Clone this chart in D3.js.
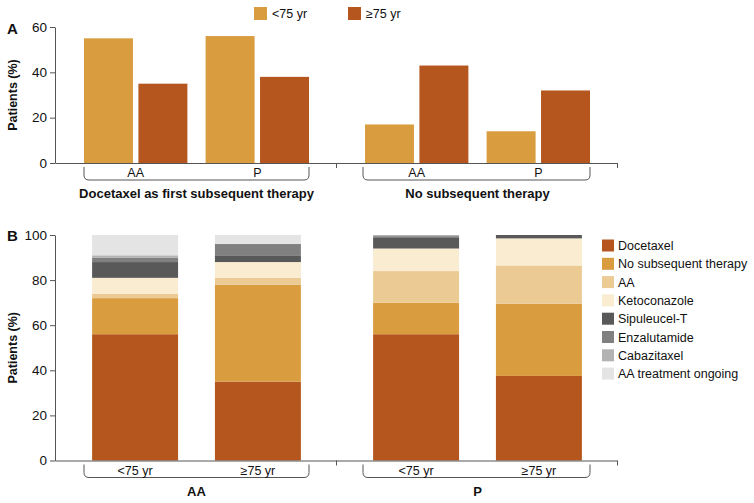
<!DOCTYPE html>
<html>
<head>
<meta charset="utf-8">
<script src="https://d3js.org/d3.v7.min.js"></script>
<style>
  body { margin: 0; background: #fff; }
  svg { font-family: "Liberation Sans", Arial, Helvetica, sans-serif; }
  .axis path, .axis line { stroke: #555; }
  .axis text { font-size: 13.5px; fill: #111; }
</style>
</head>
<body>
<svg id="chart" width="754" height="503"></svg>
<script>
// ---- panel A data ----
var ageGroups = ["<75 yr", "\u226575 yr"];
var arms = ["AA", "P"];
var panelAGroups = ["Docetaxel as first subsequent therapy", "No subsequent therapy"];
var docetaxelUnder75 = [55, 56];   // AA, P
var docetaxelOver75 = [35, 38];
var noSubUnder75 = [17, 14];
var noSubOver75 = [43, 32];
var panelATicks = [0, 20, 40, 60];

// ---- panel B data ----
var therapies = ["Docetaxel", "No subsequent therapy", "AA", "Ketoconazole",
  "Sipuleucel-T", "Enzalutamide", "Cabazitaxel", "AA treatment ongoing"];
var aaUnder75 = [56, 16, 2, 7, 7, 2, 1, 9];
var aaOver75 = [35, 43, 3, 7, 3, 5, 0, 4];
var pUnder75 = [56, 14, 14, 10, 5, 0.5, 0.5, 0];
var pOver75 = [37.5, 32, 17, 12, 1.5, 0, 0, 0];
var panelBTicks = [0, 20, 40, 60, 80, 100];

var ageColors = ["#d99c3f", "#b5561e"];
var therapyColors = ["#b5561e", "#d99c3f", "#ebcb93", "#f9ecd0",
  "#595959", "#808080", "#b3b3b3", "#e4e4e4"];

var svg = d3.select("#chart");
var axisLeftX = 55, axisRightX = 617;

var xGroup = d3.scaleBand().domain([0, 1]).range([axisLeftX, axisRightX]);
var xArm = d3.scaleBand().domain(arms).range([29, 254]).paddingInner(0.15);
var xAge = d3.scaleBand().domain(ageGroups).range([0, xArm.bandwidth()]).paddingInner(0.1);
var xStack = d3.scaleBand().domain(ageGroups).range([29, 254]).paddingInner(0.3).paddingOuter(0.066);

function bracket(x0, x1, yTop, yBot) {
  var r = 5;
  return "M" + x0 + "," + yTop + "V" + (yBot - r) +
    "Q" + x0 + "," + yBot + " " + (x0 + r) + "," + yBot +
    "H" + (x1 - r) + "Q" + x1 + "," + yBot + " " + x1 + "," + (yBot - r) + "V" + yTop;
}

function drawFrame(g, y, ticks, yBase, subLabels, groupLabels, letter, letterY) {
  g.append("g").attr("class", "axis")
    .attr("transform", "translate(" + axisLeftX + ",0)")
    .call(d3.axisLeft(y).tickValues(ticks).tickSize(5).tickSizeOuter(0).tickPadding(3));

  var xl = d3.scaleLinear().domain([0, 2]).range([axisLeftX, axisRightX]);
  g.append("g").attr("class", "axis")
    .attr("transform", "translate(0," + yBase + ")")
    .call(d3.axisBottom(xl).tickValues([1, 2]).tickSize(5).tickSizeOuter(0).tickFormat(""));

  [0, 1].forEach(function(gi) {
    var gx = xGroup(gi);
    g.append("path")
      .attr("d", bracket(gx + 29 - gi * 2, gx + 254, yBase + 4, yBase + 17))
      .attr("fill", "none").attr("stroke", "#555").attr("stroke-width", 1);
    subLabels.forEach(function(s) {
      g.append("text")
        .attr("x", gx + s.x).attr("y", yBase + 14)
        .attr("text-anchor", "middle").attr("font-size", "12.5px").attr("fill", "#111")
        .text(s.label);
    });
    g.append("text")
      .attr("x", gx + 141.5).attr("y", yBase + 35)
      .attr("text-anchor", "middle").attr("font-size", "13px")
      .attr("font-weight", "bold").attr("fill", "#111")
      .text(groupLabels[gi]);
  });

  g.append("text")
    .attr("transform", "translate(17," + (y.range()[0] + y.range()[1]) / 2 + ") rotate(-90)")
    .attr("text-anchor", "middle").attr("font-size", "12.5px")
    .attr("font-weight", "bold").attr("fill", "#111")
    .text("Patients (%)");

  g.append("text")
    .attr("x", 7).attr("y", letterY)
    .attr("font-size", "15px").attr("font-weight", "bold").attr("fill", "#111")
    .text(letter);
}

// ---------------- Panel A ----------------
var yA = d3.scaleLinear().domain([0, 60]).range([163, 27]);
var gA = svg.append("g");

var panelAData = [];
[[docetaxelUnder75, docetaxelOver75], [noSubUnder75, noSubOver75]].forEach(function(pair, gi) {
  arms.forEach(function(arm, ai) {
    ageGroups.forEach(function(age, k) {
      panelAData.push({ group: gi, arm: arm, age: age, value: pair[k][ai] });
    });
  });
});

gA.selectAll(".barA")
  .data(panelAData)
  .enter().append("rect")
    .attr("class", "barA")
    .attr("x", function(d) { return xGroup(d.group) + xArm(d.arm) + xAge(d.age); })
    .attr("y", function(d) { return yA(d.value); })
    .attr("width", xAge.bandwidth())
    .attr("height", function(d) { return yA(0) - yA(d.value); })
    .attr("fill", function(d) { return ageColors[ageGroups.indexOf(d.age)]; });

drawFrame(gA, yA, panelATicks, 163,
  arms.map(function(a) { return { label: a, x: xArm(a) + xArm.bandwidth() / 2 }; }),
  panelAGroups, "A", 34);

// legend A
var legA = gA.selectAll(".legA").data(ageGroups).enter().append("g")
  .attr("transform", function(d, i) { return "translate(" + (254 + i * 94) + ",7)"; });
legA.append("rect").attr("width", 13).attr("height", 13)
  .attr("fill", function(d, i) { return ageColors[i]; });
legA.append("text").attr("x", 18).attr("y", 11).attr("font-size", "12.5px").attr("fill", "#111")
  .text(function(d) { return d; });

// ---------------- Panel B ----------------
var yB = d3.scaleLinear().domain([0, 100]).range([460.5, 235]);
var gB = svg.append("g");

var stackRows = [];
[[aaUnder75, aaOver75], [pUnder75, pOver75]].forEach(function(pair, gi) {
  ageGroups.forEach(function(age, k) {
    var row = { group: gi, age: age };
    therapies.forEach(function(t, ti) { row[t] = pair[k][ti]; });
    stackRows.push(row);
  });
});

var series = d3.stack().keys(therapies)(stackRows);

gB.selectAll(".layer")
  .data(series)
  .enter().append("g")
    .attr("class", "layer")
    .attr("fill", function(d, i) { return therapyColors[i]; })
  .selectAll("rect")
  .data(function(d) { return d; })
  .enter().append("rect")
    .attr("x", function(d) { return xGroup(d.data.group) + xStack(d.data.age); })
    .attr("y", function(d) { return yB(d[1]); })
    .attr("width", xStack.bandwidth())
    .attr("height", function(d) { return yB(d[0]) - yB(d[1]); });

drawFrame(gB, yB, panelBTicks, 460.5,
  ageGroups.map(function(a) { return { label: a, x: xStack(a) + xStack.bandwidth() / 2 }; }),
  arms, "B", 241);

// legend B
var legB = gB.selectAll(".legB").data(therapies).enter().append("g")
  .attr("transform", function(d, i) { return "translate(602," + (239.5 + i * 18.3) + ")"; });
legB.append("rect").attr("width", 12).attr("height", 12)
  .attr("fill", function(d, i) { return therapyColors[i]; });
legB.append("text").attr("x", 16).attr("y", 10.5).attr("font-size", "12.5px").attr("fill", "#111")
  .text(function(d) { return d; });
</script>
</body>
</html>
